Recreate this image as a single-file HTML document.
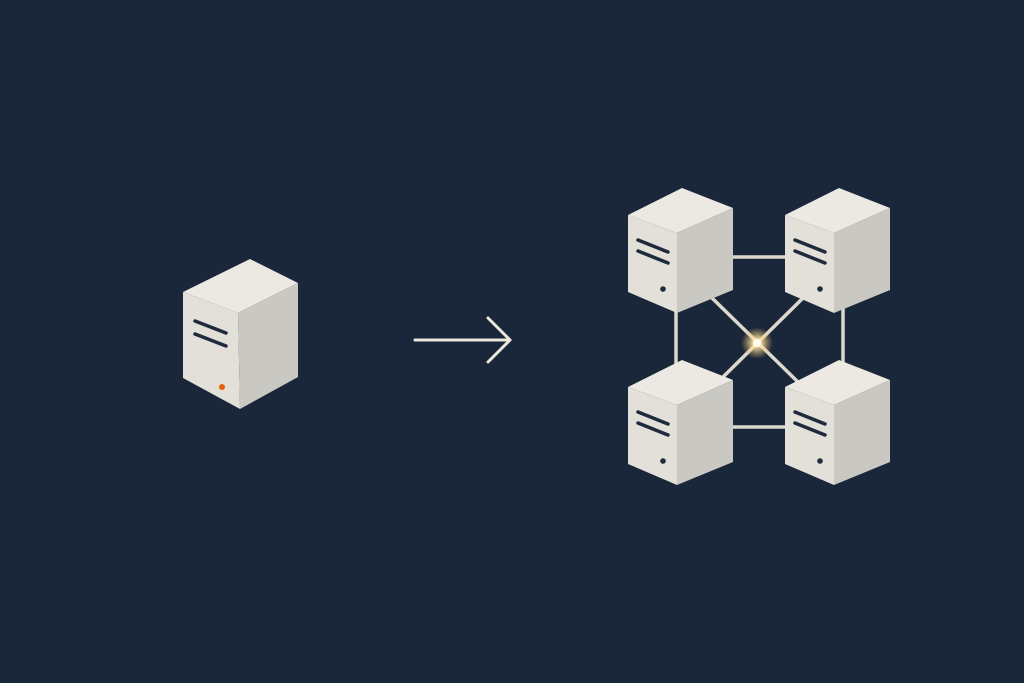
<!DOCTYPE html>
<html><head><meta charset="utf-8"><style>
html,body{margin:0;padding:0;background:#1a263a;}
svg{display:block}
</style></head><body>
<svg width="1024" height="683" viewBox="0 0 1024 683" xmlns="http://www.w3.org/2000/svg">
<defs>
<radialGradient id="glow">
<stop offset="0" stop-color="#fffbe8" stop-opacity="1"/>
<stop offset="0.25" stop-color="#ffe9a8" stop-opacity="0.9"/>
<stop offset="1" stop-color="#e8b860" stop-opacity="0"/>
</radialGradient>
<g id="srv">
<!-- origin at left-top corner, width 105, height ~80 -->
<polygon points="0,0 54,-27 105,-7 49,18" fill="#ebe9e1"/>
<polygon points="0,0 49,18 49,98 0,77" fill="#e2e0d8"/>
<polygon points="49,18 105,-7 105,75 49,98" fill="#c9c8c2"/>
<line x1="10" y1="25" x2="40" y2="37" stroke="#1f2b3d" stroke-width="3.5" stroke-linecap="round"/>
<line x1="10" y1="36" x2="40" y2="48" stroke="#1f2b3d" stroke-width="3.5" stroke-linecap="round"/>
<circle cx="35" cy="74" r="2.8" fill="#1f2b3d"/>
</g>
</defs>
<rect width="1024" height="683" fill="#1a263a"/>

<!-- single server -->
<polygon points="183,292 250,259 298,283 238,313" fill="#ebe9e1"/>
<polygon points="183,292 238,313 240,409 183,378" fill="#e2e0d8"/>
<polygon points="238,313 298,283 298,377 240,409" fill="#c9c8c2"/>
<line x1="195" y1="321" x2="226" y2="333" stroke="#1f2b3d" stroke-width="3.5" stroke-linecap="round"/>
<line x1="195" y1="334" x2="226" y2="346" stroke="#1f2b3d" stroke-width="3.5" stroke-linecap="round"/>
<circle cx="222" cy="387" r="3" fill="#e0620f"/>

<!-- arrow -->
<g stroke="#ece8dc" stroke-width="3" fill="none" stroke-linecap="round" stroke-linejoin="round">
<line x1="415" y1="340" x2="510" y2="340"/>
<polyline points="488,318 510,340 488,362"/>
</g>

<!-- connections -->
<g stroke="#dcd8cc" stroke-width="3.5">
<line x1="730" y1="257" x2="790" y2="257"/>
<line x1="730" y1="427" x2="790" y2="427"/>
<line x1="676" y1="300" x2="676" y2="370"/>
<line x1="843" y1="300" x2="843" y2="370"/>
<line x1="712" y1="298" x2="800" y2="384"/>
<line x1="803" y1="298" x2="720" y2="380"/>
</g>
<circle cx="757" cy="343" r="16" fill="url(#glow)"/>
<circle cx="757" cy="343" r="4" fill="#fffdf2"/>

<use href="#srv" x="628" y="215"/>
<use href="#srv" x="785" y="215"/>
<use href="#srv" x="628" y="387"/>
<use href="#srv" x="785" y="387"/>
</svg>
</body></html>
